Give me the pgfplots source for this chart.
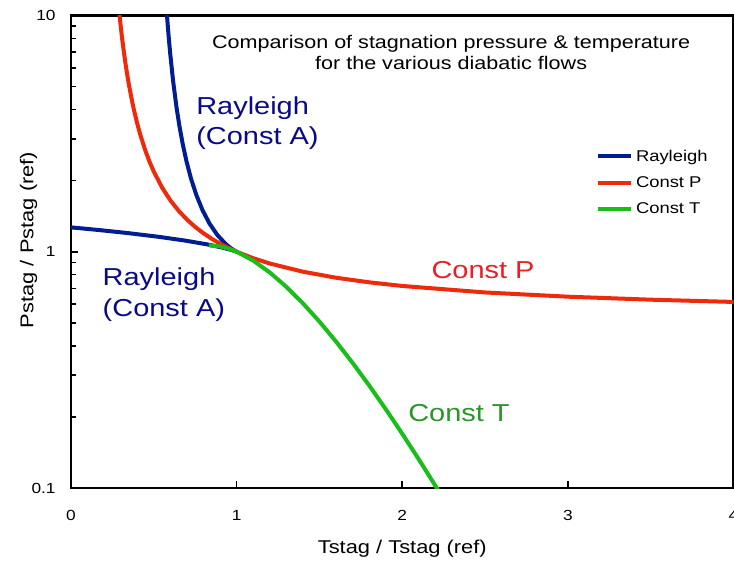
\documentclass[border=0pt]{standalone}
\usepackage{fontspec}
\setmainfont{Liberation Sans}[FakeStretch=1.18]
\usepackage{pgfplots}
\pgfplotsset{compat=1.18}
\definecolor{rblue}{RGB}{0,30,145}
\definecolor{cpred}{RGB}{238,42,10}
\definecolor{ctgreen}{RGB}{25,190,25}
\definecolor{tblue}{RGB}{10,10,135}
\definecolor{tred}{RGB}{235,30,35}
\definecolor{tgreen}{RGB}{40,150,40}
\begin{document}
\begin{tikzpicture}
\begin{axis}[
 scale only axis, width=496.9pt, height=354.4pt,
 xmin=0, xmax=4, ymode=log, ymin=0.1, ymax=10,
 axis line style={line width=2pt},
 xtick={0,1,2,3,4}, xticklabels={0,1,2,3,4},
 ytick={0.1,1,10}, yticklabels={0.1,1,10},
 minor ytick={0.2,0.3,0.4,0.5,0.6,0.7,0.8,0.9,2,3,4,5,6,7,8,9},
 xtick pos=bottom, ytick pos=left, tick align=inside,
 major tick length=5.5pt, minor tick length=3.5pt,
 every tick/.style={black, line width=1.2pt},
 tick label style={font=\fontsize{11}{13}\selectfont},
 yticklabel style={xshift=-8pt},
 xticklabel style={yshift=-13pt},
 xlabel={Tstag / Tstag (ref)}, ylabel={Pstag / Pstag (ref)},
 label style={font=\fontsize{13.9}{16}\selectfont},
 xlabel style={at={([yshift=-48.75pt]axis description cs:0.5,0)}, anchor=base},
 ylabel style={at={([xshift=-28.3pt]axis description cs:0,0.525)}, anchor=base},
 legend style={at={(0.792,0.722)}, anchor=north west, draw=none, fill=none, inner sep=0pt,
   font=\fontsize{11.7}{14}\selectfont, row sep=6pt, cells={anchor=west}},
 legend image code/.code={\draw[#1, line width=3pt] (0pt,0pt) -- (25pt,0pt);},
]
\addplot[rblue, line width=3pt, line join=round] coordinates {
(0.5768,10.60) (0.58065,9.747) (0.58909,8.227) (0.59869,6.925) (0.61581,5.3276)
(0.63697,4.0874) (0.65398,3.4245) (0.67380,2.8731) (0.69700,2.4177) (0.72421,2.0437)
(0.75614,1.7434) (0.79339,1.5031) (0.83628,1.3159) (0.88419,1.1756) (0.93425,1.0777)
(0.95798,1.0437) (0.97872,1.0194) (0.99392,1.0049) (1,1)
(0.99207,1.0049) (0.96394,1.0193) (0.90850,1.0431) (0.81892,1.0753) (0.69136,1.1141)
(0.52902,1.15657) (0.34686,1.19855) (0.17355,1.23459) (0.04678,1.2591) (0,1.2679)
};
\addlegendentry{Rayleigh}
\addplot[cpred, line width=3pt, line join=round] coordinates {
(0.29,10.53) (0.295,9.729) (0.3,9.026) (0.305,8.407) (0.31,7.859) (0.315,7.372)
(0.32,6.937) (0.33,6.193) (0.34,5.584) (0.35,5.079) (0.37,4.294) (0.38,3.985)
(0.4,3.4847) (0.42,3.0998) (0.45,2.6673) (0.475,2.3973)
(0.5,2.1837) (0.55,1.8690) (0.6,1.6501) (0.65,1.4900) (0.7,1.3684) (0.75,1.2731)
(0.8,1.1967) (0.85,1.1340) (0.9,1.0818) (0.95,1.0377) (1.0,1.0) (1.1,0.9389)
(1.2,0.8916) (1.4,0.8233) (1.6,0.7764) (1.8,0.7423) (2.0,0.7164) (2.5,0.6725)
(3.0,0.6453) (3.5,0.6267) (4.0,0.6131)
};
\addlegendentry{Const P}
\addplot[ctgreen, line width=3pt, line join=round] coordinates {
(0.8333,1.0638) (0.9,1.0526) (0.95,1.0309) (1.0,1.0) (1.1,0.9172) (1.2,0.8172)
(1.3,0.7106) (1.4,0.6051) (1.5,0.5062) (1.6,0.4169) (1.7,0.3387) (1.8,0.2718)
(1.9,0.2158) (2.0,0.1696) (2.1,0.1322) (2.2,0.1022) (2.25,0.0896)
};
\addlegendentry{Const T}
\node[anchor=base, font=\fontsize{13.7}{16}\selectfont] at (axis cs:2.295,7.22) {Comparison of stagnation pressure \& temperature};
\node[anchor=base, font=\fontsize{13.7}{16}\selectfont] at (axis cs:2.295,5.884) {for the various diabatic flows};
\node[anchor=base west, inner sep=0pt, text=tblue, font=\fontsize{18.4}{22}\selectfont] at (axis cs:0.755,3.796) {Rayleigh};
\node[anchor=base west, inner sep=0pt, text=tblue, font=\fontsize{18.4}{22}\selectfont] at (axis cs:0.755,2.834) {(Const A)};
\node[anchor=base west, inner sep=0pt, text=tblue, font=\fontsize{18.4}{22}\selectfont] at (axis cs:0.19,0.718) {Rayleigh};
\node[anchor=base west, inner sep=0pt, text=tblue, font=\fontsize{18.4}{22}\selectfont] at (axis cs:0.19,0.5326) {(Const A)};
\node[anchor=base west, inner sep=0pt, text=tred, font=\fontsize{18.4}{22}\selectfont] at (axis cs:2.175,0.769) {Const P};
\node[anchor=base west, inner sep=0pt, text=tgreen, font=\fontsize{18.4}{22}\selectfont] at (axis cs:2.035,0.1916) {Const T};
\end{axis}
\pgfresetboundingbox
\useasboundingbox (-53.25pt,-54.75pt) rectangle (497.25pt,366pt);
\end{tikzpicture}
\end{document}
